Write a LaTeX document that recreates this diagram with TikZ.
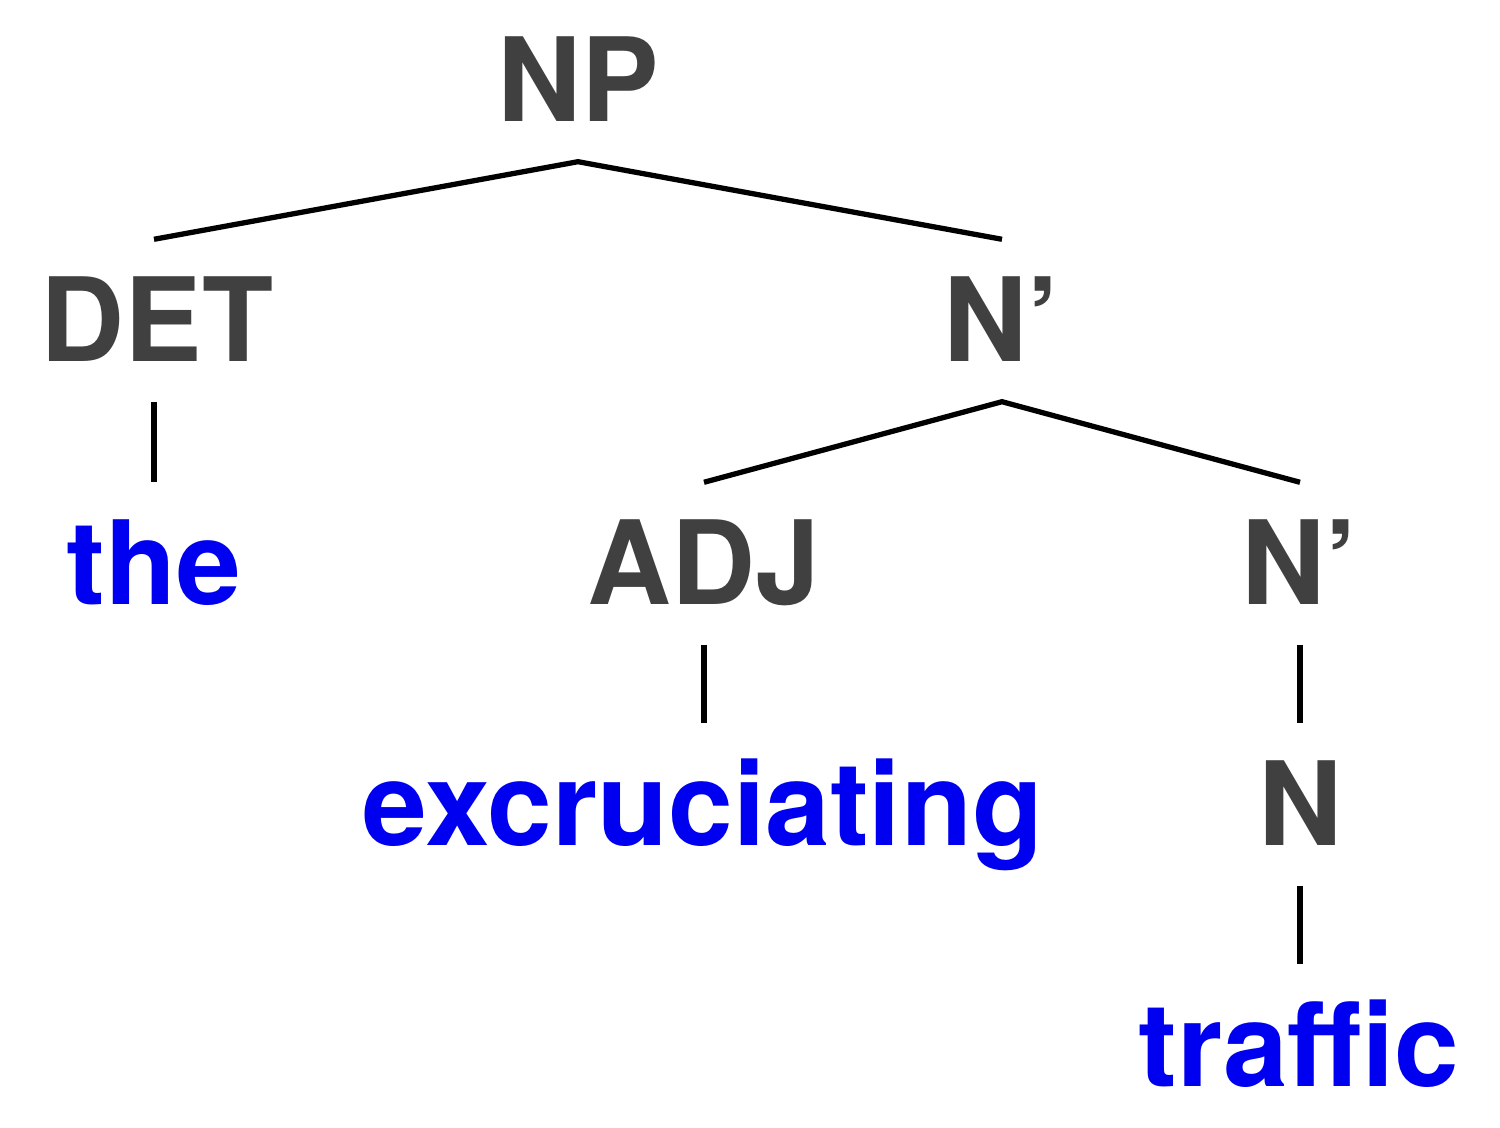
\documentclass[tikz,border=0pt]{standalone}
\usepackage{fontspec}
\setmainfont{TeX Gyre Heros}
\usepackage{xcolor}
\usepackage{tikz}
\usetikzlibrary{calc}

\definecolor{labelgray}{HTML}{404040}
\definecolor{wordblue}{HTML}{0000F0}

\tikzset{
  cat/.style={font=\fontsize{33.1}{33.1}\selectfont\bfseries, text=labelgray,
    inner xsep=0pt, inner ysep=0.39cm, text height=0.83cm, text depth=0pt, anchor=base},
  word/.style={cat, text=wordblue},
  branch/.style={line width=1.5pt, black}
}

\begin{document}
\begin{tikzpicture}
  \useasboundingbox (0,0) rectangle (15,11.28);

  % Category labels
  \node[cat] (np) at (5.78,10.06) {NP};
  \node[cat] (det) at (1.57,7.66) {DET};
  \node[cat] (nbar) at (10.02,7.66) {N'};
  \node[cat] (adj) at (7.04,5.23) {ADJ};
  \node[cat] (nbarb) at (13.00,5.23) {N'};
  \node[cat] (n) at (13.00,2.82) {N};

  % Words
  \node[word] (the) at (1.54,5.23) {the};
  \node[word] (excr) at (7.03,2.82) {excruciating};
  \node[word] (traffic) at (12.99,0.41) {traffic};

  % Branches
  \draw[branch] (det.north -| the.north) -- (np.south) -- (nbar.north);
  \draw[branch] (det.south -| the.south) -- (the.north);
  \draw[branch] (adj.north) -- (nbar.south) -- (nbarb.north);
  \draw[branch] (adj.south) -- (adj.south |- excr.north);
  \draw[branch] (nbarb.south) -- (n.north);
  \draw[branch] (n.south) -- (n.south |- traffic.north);
\end{tikzpicture}
\end{document}
